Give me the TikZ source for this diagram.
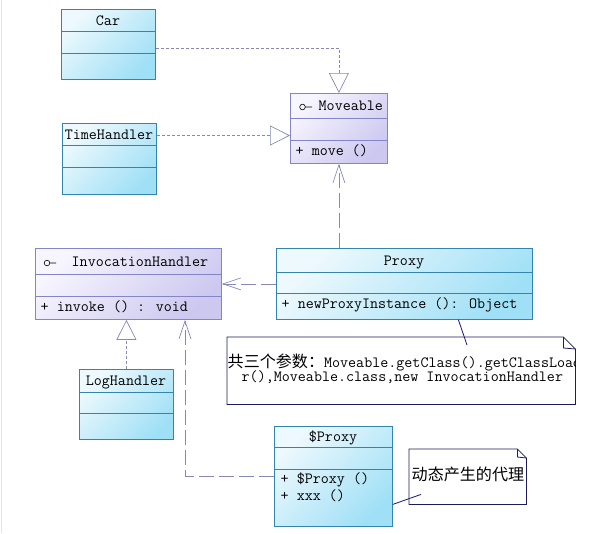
\documentclass[tikz,border=0pt]{standalone}
\usepackage{fontspec}
\newfontfamily\cjk{Noto Sans CJK SC}[Scale=1.03]
\usepackage{tikz}
\usetikzlibrary{arrows.meta, calc}

\definecolor{cyanline}{RGB}{52,132,172}
\definecolor{cyanlight}{RGB}{238,249,253}
\definecolor{cyandark}{RGB}{160,224,246}
\definecolor{lavline}{RGB}{132,132,200}
\definecolor{lavlight}{RGB}{247,245,254}
\definecolor{lavdark}{RGB}{204,200,240}
\definecolor{linkgray}{RGB}{136,136,184}
\definecolor{notenavy}{RGB}{28,28,92}

\tikzstyle{cls} = [rectangle, draw=cyanline, line width=0.8pt, top color=cyanlight, bottom color=cyandark, shading angle=45, inner sep=0pt, anchor=north west]
\tikzstyle{iface} = [cls, draw=lavline, top color=lavlight, bottom color=lavdark, shading angle=45]
\tikzstyle{clstext} = [inner sep=0pt, font=\fontsize{15.6}{15}\ttfamily]
\tikzstyle{notearea} = [rectangle, inner sep=0pt, anchor=north west]
\tikzstyle{notebox} = [draw=notenavy, line width=0.8pt, fill=white]
\tikzstyle{realize} = [draw=linkgray, line width=0.7pt, dash pattern=on 3pt off 2pt, -{Triangle[open, length=20pt, width=20pt, fill=white]}]
\tikzstyle{depend} = [draw=linkgray, line width=0.7pt, dash pattern=on 15pt off 5pt, -{Straight Barb[length=18pt, width=12pt]}]
\tikzstyle{attach} = [draw=notenavy!75!blue, line width=0.8pt]

% separator lines of a class box: node, first offset, second offset, colour
\newcommand{\compart}[4]{%
  \draw[draw=#4, line width=0.8pt] ($(#1.north west)+(0,#2)$) -- ($(#1.north east)+(0,#2)$);
  \draw[draw=#4, line width=0.8pt] ($(#1.north west)+(0,#3)$) -- ($(#1.north east)+(0,#3)$);
}

\begin{document}
\begin{tikzpicture}[x=1pt, y=-1pt]

\fill[white] (0,0) rectangle (589,533);
\useasboundingbox (0,0) rectangle (589,533);
\draw[black!10, line width=1pt] (1,0) -- (1,533);

% Classes
\node (car) [cls, minimum width=94pt, minimum height=70pt] at (61,9) {};
\compart{car}{22}{44}{cyanline}
\node (cartitle) [clstext, anchor=base] at (108,25) {Car};

\node (time) [cls, minimum width=94pt, minimum height=71pt] at (62,123) {};
\compart{time}{22}{44}{cyanline}
\node (timetitle) [clstext, anchor=base] at (109,139) {TimeHandler};

\node (move) [iface, minimum width=97pt, minimum height=70pt] at (290,93) {};
\compart{move}{25}{47}{lavline}
\draw[line width=0.6pt] (302.5,107) circle (2.8pt) (305.3,107) -- (312,107);
\node (movetitle) [clstext, anchor=base west] at (318.5,110.5) {Moveable};
\node (moveop) [clstext, anchor=base west] at (295.5,155.5) {+ move ()};

\node (inv) [iface, minimum width=186pt, minimum height=71pt] at (35,248) {};
\compart{inv}{26}{48}{lavline}
\draw[line width=0.6pt] (47,263) circle (2.8pt) (49.8,263) -- (56,263);
\node (invtitle) [clstext, anchor=base west] at (71.5,266) {InvocationHandler};
\node (invop) [clstext, anchor=base west] at (40.5,311.5) {+ invoke () : void};

\node (proxy) [cls, minimum width=256pt, minimum height=71pt] at (276,248) {};
\compart{proxy}{24}{45}{cyanline}
\node (proxytitle) [clstext, anchor=base] at (404,265) {Proxy};
\node (proxyop) [clstext, anchor=base west] at (281.5,308) {+ newProxyInstance (): Object};

\node (log) [cls, minimum width=94pt, minimum height=70pt] at (79,369) {};
\compart{log}{23}{44}{cyanline}
\node (logtitle) [clstext, anchor=base] at (126,385) {LogHandler};

\node (dproxy) [cls, minimum width=118pt, minimum height=100pt] at (274,426) {};
\compart{dproxy}{21}{43}{cyanline}
\node (dproxytitle) [clstext, anchor=base] at (333,441.5) {\$Proxy};
\node (dproxyop1) [clstext, anchor=base west] at (280.5,483) {+ \$Proxy ()};
\node (dproxyop2) [clstext, anchor=base west] at (280.5,500.5) {+ xxx ()};

% Notes
\node (note1) [notearea, minimum width=348pt, minimum height=67pt] at (227,337) {};
\draw[notebox] (note1.north west) -- ([xshift=-12pt]note1.north east) -- ([yshift=-12pt]note1.north east)
  -- (note1.south east) -- (note1.south west) -- cycle;
\draw[notebox, fill=none] ([xshift=-12pt]note1.north east) -- ([xshift=-12pt,yshift=-11pt]note1.north east) -- ([yshift=-12pt]note1.north east);
\begin{scope}
  \clip (note1.north west) rectangle (note1.south east);
  \node (note1a) [clstext, anchor=base west] at (227.5,367) {{\cjk 共三个参数：}Moveable.getClass().getClassLoade};
  \node (note1b) [clstext, anchor=base west] at (241.5,381.7) {r(),Moveable.class,new InvocationHandler};
\end{scope}

\node (note2) [notearea, minimum width=117pt, minimum height=55pt] at (409,449) {};
\draw[notebox] (note2.north west) -- ([xshift=-9pt]note2.north east) -- ([yshift=-9pt]note2.north east)
  -- (note2.south east) -- (note2.south west) -- cycle;
\draw[notebox, fill=none] ([xshift=-9pt]note2.north east) -- ([xshift=-9pt,yshift=-8pt]note2.north east) -- ([yshift=-9pt]note2.north east);
\node (note2text) [clstext, anchor=base west] at (411.5,480.5) {\cjk 动态产生的代理};

% Arrows
\coordinate (timelevel) at (0,135.5);
\draw[realize] ([yshift=-4pt]car.east) -| (move.north);
\draw[realize] (time.east |- timelevel) -- (move.west |- timelevel);
\draw[realize] (log.north) -- (log.north |- inv.south);
\draw[depend] (move.south |- proxy.north) -- (move.south);
\draw[depend] (proxy.west) -- (inv.east);
\draw[depend] (dproxy.west) -| ([xshift=150pt]inv.south west);

% Note links
\draw[attach] ([xshift=54pt]proxy.south) -- ([xshift=240pt,yshift=-8pt]note1.north west);
\draw[attach] ([yshift=-28pt]dproxy.east) -- ([xshift=12pt,yshift=10pt]note2.south west);

\end{tikzpicture}
\end{document}
